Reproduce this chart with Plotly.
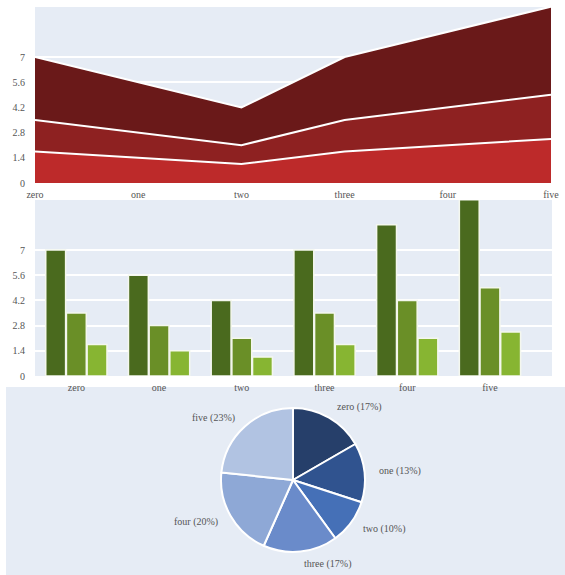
import math
import plotly.graph_objects as go

categories = ["zero", "one", "two", "three", "four", "five"]
series_a = [7, 5.6, 4.2, 7, 8.4, 9.8]
series_b = [3.5, 2.8, 2.1, 3.5, 4.2, 4.9]
series_c = [1.75, 1.4, 1.05, 1.75, 2.1, 2.45]
tick_vals = [0, 1.4, 2.8, 4.2, 5.6, 7]
tick_text = ["0", "1.4", "2.8", "4.2", "5.6", "7"]

W, H = 565, 575
BG = "#e6ecf5"
FONT = dict(family="Liberation Serif, DejaVu Serif, serif", size=10, color="#555555")

reds = ["#6a1919", "#8e2121", "#bd2a2a"]
greens = ["#4a6a1e", "#6a8f27", "#87b532"]
blues = ["#263f6a", "#30538f", "#4570b7", "#6a8bca", "#8ea8d6", "#b1c3e2"]

fig = go.Figure()

# overlapping areas, each filled down to zero
for vals, col in zip([series_a, series_b, series_c], reds):
    fig.add_trace(go.Scatter(
        x=categories, y=vals, mode="lines", fill="tozeroy",
        fillcolor=col, line=dict(color="white", width=2),
        xaxis="x", yaxis="y", showlegend=False, hoverinfo="skip",
    ))

# grouped bars
for vals, col in zip([series_a, series_b, series_c], greens):
    fig.add_trace(go.Bar(
        x=categories, y=vals, marker=dict(color=col, line=dict(color="#f4f7ee", width=1.5)),
        xaxis="x2", yaxis="y2", showlegend=False, hoverinfo="skip",
    ))


def px_x(v):
    return v / W


def px_y(v):
    return 1 - v / H


# pie of the first series
PIE_CX, PIE_CY, PIE_R, LABEL_R = 293, 480, 72, 84
fig.add_trace(go.Pie(
    labels=categories, values=series_a, sort=False, direction="clockwise", rotation=0,
    marker=dict(colors=blues, line=dict(color="white", width=2)),
    textinfo="none",
    domain=dict(x=[px_x(PIE_CX - PIE_R), px_x(PIE_CX + PIE_R)],
                y=[px_y(PIE_CY + PIE_R), px_y(PIE_CY - PIE_R)]),
    showlegend=False, hoverinfo="skip", automargin=False,
))

# slice labels placed just outside each slice's middle angle
total = sum(series_a)
annotations = []
acc = 0.0
for name, v in zip(categories, series_a):
    mid = (acc + v / 2) / total * 2 * math.pi
    acc += v
    dx = LABEL_R * math.sin(mid)
    dy = -LABEL_R * math.cos(mid)
    annotations.append(dict(
        x=px_x(PIE_CX + dx), y=px_y(PIE_CY + dy), xref="paper", yref="paper",
        text=f"{name} ({round(100 * v / total)}%)", showarrow=False,
        xanchor="left" if dx > 0 else "right", yanchor="middle", font=FONT,
    ))

axis_y = dict(
    range=[0, 9.78], tickvals=tick_vals, ticktext=tick_text, showgrid=True,
    gridcolor="white", gridwidth=1.5, zeroline=False, showline=False, ticks="",
    tickfont=FONT, ticklabelstandoff=9, automargin=False,
)
axis_x = dict(showgrid=False, zeroline=False, ticks="", tickfont=FONT,
              automargin=False, ticklabelstandoff=4)

fig.update_layout(
    width=W, height=H, margin=dict(l=0, r=0, t=0, b=0, autoexpand=False),
    paper_bgcolor="white", plot_bgcolor=BG, font=FONT,
    barmode="group", bargap=0.25, bargroupgap=0.04,
    xaxis=dict(domain=[px_x(35), px_x(551)], range=[0, 5], anchor="y", **axis_x),
    yaxis=dict(domain=[px_y(183), px_y(7)], anchor="x", **axis_y),
    xaxis2=dict(domain=[px_x(35), px_x(552)], range=[-0.5, 5.75], anchor="y2", **axis_x),
    yaxis2=dict(domain=[px_y(376), px_y(200)], anchor="x2", **axis_y),
    shapes=[dict(type="rect", xref="paper", yref="paper",
                 x0=px_x(6), x1=1, y0=0, y1=px_y(387),
                 fillcolor=BG, line=dict(width=0), layer="below")],
    annotations=annotations,
)

fig.write_html("out.html")
